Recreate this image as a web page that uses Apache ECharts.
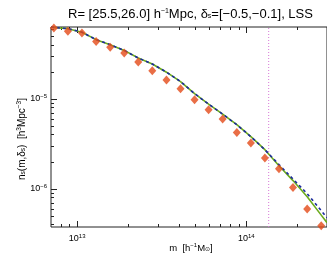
<!DOCTYPE html>
<html><head><meta charset="utf-8">
<script src="https://cdn.jsdelivr.net/npm/echarts@6/dist/echarts.min.js"></script>
<style>html,body{margin:0;padding:0;background:#fff}#c{width:327px;height:256px}</style>
</head><body><div id="c"></div>
<script>
// ---- data ----
const massBins = [7.28e12, 8.81e12, 1.067e13, 1.294e13, 1.567e13, 1.897e13, 2.296e13, 2.780e13, 3.373e13, 4.083e13,
  4.943e13, 5.984e13, 7.244e13, 8.790e13, 1.064e14, 1.288e14, 1.560e14, 1.888e14, 2.291e14, 2.773e14];
const nMeasured = [6.1e-5, 5.60e-5, 5.37e-5, 4.33e-5, 3.72e-5, 3.22e-5, 2.56e-5, 2.05e-5, 1.61e-5, 1.29e-5,
  9.75e-6, 7.55e-6, 5.94e-6, 4.22e-6, 3.22e-6, 2.19e-6, 1.67e-6, 1.03e-6, 5.94e-7, 3.88e-7];
const modelMass = [7.0e12, 7.28e12, 8.81e12, 1.067e13, 1.294e13, 1.567e13, 1.897e13, 2.296e13, 2.780e13, 3.373e13, 4.083e13,
  4.943e13, 5.984e13, 7.244e13, 8.790e13, 1.064e14, 1.288e14, 1.560e14, 1.888e14, 2.291e14, 2.773e14, 3.0e14];
const nModelA = [6.3e-5, 6.18e-5, 6.0e-5, 5.48e-5, 4.53e-5, 3.98e-5, 3.44e-5, 2.83e-5, 2.43e-5, 1.97e-5, 1.55e-5,
  1.14e-5, 8.69e-6, 6.73e-6, 5.14e-6, 3.78e-6, 2.71e-6, 1.80e-6, 1.23e-6, 8.15e-7, 5.08e-7, 4.19e-7];
const nModelB = [6.3e-5, 6.18e-5, 6.0e-5, 5.48e-5, 4.53e-5, 3.98e-5, 3.44e-5, 2.83e-5, 2.43e-5, 1.97e-5, 1.55e-5,
  1.14e-5, 8.69e-6, 6.73e-6, 5.14e-6, 3.78e-6, 2.71e-6, 1.85e-6, 1.28e-6, 8.8e-7, 5.70e-7, 4.76e-7];
const markerMass = [1.356e14];
const xRange = [7e12, 3e14];
const yRange = [3.75e-7, 6.26e-5];
const xMajor = [1e13, 1e14];
const xMinor = [8e12, 9e12, 2e13, 3e13, 4e13, 5e13, 6e13, 7e13, 8e13, 9e13, 2e14, 3e14];
const yMajor = [1e-6, 1e-5];
const yMinor = [4e-7, 5e-7, 6e-7, 7e-7, 8e-7, 9e-7, 2e-6, 3e-6, 4e-6, 5e-6, 6e-6, 7e-6, 8e-6, 9e-6,
  2e-5, 3e-5, 4e-5, 5e-5, 6e-5];
const xTickExp = [13, 14];
const yTickExp = [-6, -5];

// ---- chart ----
const FONT = 'Liberation Sans, Arial, sans-serif';
const ticks = [];
xMajor.forEach(v => ticks.push({a: 'x', v: v, len: 6}));
xMinor.forEach(v => ticks.push({a: 'x', v: v, len: 3}));
yMajor.forEach(v => ticks.push({a: 'y', v: v, len: 6}));
yMinor.forEach(v => ticks.push({a: 'y', v: v, len: 3}));

const chart = echarts.init(document.getElementById('c'), null, {renderer: 'canvas'});
function expLabel(v, list) {
  const e = Math.log10(v);
  const r = Math.round(e);
  if (Math.abs(e - r) > 1e-6 || list.indexOf(r) < 0) return '';
  return '{b|10}{s|' + (r < 0 ? '\u2212' + (-r) : r) + '}';
}
const labRich = {
  b: {fontSize: 9, fontFamily: FONT, color: '#000'},
  s: {fontSize: 6, fontFamily: FONT, color: '#000', padding: [0, 0, 5, 0]}
};
chart.setOption({
  animation: false,
  backgroundColor: '#fff',
  grid: {left: 51, top: 27, right: -5, bottom: 29, show: true, borderColor: '#222', borderWidth: 1},
  xAxis: {
    type: 'log', logBase: 10, min: xRange[0], max: xRange[1],
    axisLine: {show: false}, axisTick: {show: false}, splitLine: {show: false},
    axisLabel: {showMinLabel: false, showMaxLabel: false, margin: 6,
      formatter: v => expLabel(v, xTickExp), rich: labRich}
  },
  yAxis: {
    type: 'log', logBase: 10, min: yRange[0], max: yRange[1],
    axisLine: {show: false}, axisTick: {show: false}, splitLine: {show: false},
    axisLabel: {showMinLabel: false, showMaxLabel: false, margin: 4,
      formatter: v => expLabel(v, yTickExp), rich: labRich}
  },
  series: [
    {
      type: 'custom', silent: true, clip: false, z: 1,
      data: ticks.map(t => t.a === 'x' ? [t.v, yRange[0]] : [xRange[0], t.v]),
      renderItem: function (params, api) {
        const t = ticks[params.dataIndex];
        const st = {stroke: '#222', lineWidth: 1};
        if (t.a === 'x') {
          const p0 = api.coord([t.v, yRange[0]]);
          const p1 = api.coord([t.v, yRange[1]]);
          const x = Math.round(p0[0]) + 0.5;
          return {type: 'group', children: [
            {type: 'line', shape: {x1: x, y1: p0[1], x2: x, y2: p0[1] - t.len}, style: st},
            {type: 'line', shape: {x1: x, y1: p1[1], x2: x, y2: p1[1] + t.len}, style: st}
          ]};
        } else {
          const p0 = api.coord([xRange[0], t.v]);
          const y = Math.round(p0[1]) + 0.5;
          return {type: 'line', shape: {x1: p0[0], y1: y, x2: p0[0] + t.len, y2: y}, style: st};
        }
      }
    },
    {
      type: 'line', data: markerMass.map(m => [m, yRange[0]]).concat(markerMass.map(m => [m, yRange[1]])),
      showSymbol: false, lineStyle: {color: '#d878d8', width: 1, type: [1, 2]}, z: 2
    },
    {
      type: 'line', data: modelMass.map((m, i) => [m, nModelA[i]]), showSymbol: false, smooth: false,
      lineStyle: {color: '#6cab1c', width: 1.6}, z: 3
    },
    {
      type: 'line', data: modelMass.map((m, i) => [m, nModelB[i]]), showSymbol: false, smooth: false,
      lineStyle: {color: '#1c2a9e', width: 1.6, type: [3, 3]}, z: 4
    },
    {
      type: 'scatter', data: massBins.map((m, i) => [m, nMeasured[i]]), symbol: 'diamond', symbolSize: [8, 9],
      itemStyle: {color: '#e44a18'}, z: 5
    }
  ],
  graphic: [
    {type: 'text', left: 68, top: 8, style: {
      text: 'R= [25.5,26.0] h{sup|\u22121}Mpc, \u03b4{sub|s}=[\u22120.5,\u22120.1], LSS',
      fontSize: 13, fontFamily: FONT, fill: '#000',
      rich: {sup: {fontSize: 7, fontFamily: FONT, padding: [0, 0, 6, 0]}, sub: {fontSize: 7, fontFamily: FONT, padding: [0, 0, -3, 0]}}
    }},
    {type: 'text', x: 22, y: 139, rotation: Math.PI / 2, style: {
      text: 'n{sub|s}(m,\u03b4{sub|s})  [h{sup|3}Mpc{sup|\u22123}]',
      fontSize: 10, fontFamily: FONT, fill: '#000', align: 'center', verticalAlign: 'middle',
      rich: {sup: {fontSize: 6.5, fontFamily: FONT, padding: [0, 0, 5, 0]}, sub: {fontSize: 6.5, fontFamily: FONT, padding: [0, 0, -3, 0]}}
    }},
    {type: 'text', x: 191, y: 248, style: {
      text: 'm  [h{sup|\u22121}M{sub|\u2299}]',
      fontSize: 9.5, fontFamily: FONT, fill: '#000', align: 'center', verticalAlign: 'middle',
      rich: {sup: {fontSize: 6, fontFamily: FONT, padding: [0, 0, 5, 0]}, sub: {fontSize: 6, fontFamily: FONT, padding: [0, 0, -3, 0]}}
    }}
  ]
});
</script>
</body></html>
